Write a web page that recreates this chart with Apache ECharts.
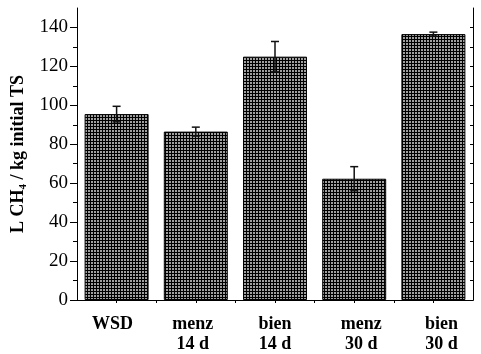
<!DOCTYPE html>
<html><head><meta charset="utf-8">
<script src="https://cdn.jsdelivr.net/npm/echarts@6/dist/echarts.min.js"></script>
<style>html,body{margin:0;padding:0;background:#fff}#c{width:481px;height:354px}</style>
</head><body><div id="c"></div>
<script>
// ---- data ----
const categories = ['WSD', 'menz\n14 d', 'bien\n14 d', 'menz\n30 d', 'bien\n30 d'];
const methaneYield = [95.5, 86.5, 125, 62.3, 136.6];
const yieldError = [4, 2.3, 7.8, 6.2, 1];
const yTickLabels = [0, 20, 40, 60, 80, 100, 120, 140];
const yMinorTicks = [10, 30, 50, 70, 90, 110, 130];
const yRightTicks = [0, 10, 20, 30, 40, 50, 60, 70, 80, 90, 100, 110, 120, 130, 140];
const topTicks = [1, 2, 3, 4, 5, 6, 7, 8, 9];

// ---- styling ----
const FONT = "'Liberation Serif','Times New Roman',serif";
const labelShift = [-4, -3, 0, 7, 8];

const pc = document.createElement('canvas');
pc.width = 3; pc.height = 3;
const g = pc.getContext('2d');
g.fillStyle = '#a0a0a0'; g.fillRect(0, 0, 3, 3);
g.fillStyle = '#000'; g.fillRect(0, 0, 3, 1); g.fillRect(0, 0, 1, 3);

const rich = {};
labelShift.forEach((d, i) => {
  rich['s' + i] = {
    fontFamily: FONT, fontWeight: 'bold', fontSize: 18, color: '#000', lineHeight: 20,
    padding: d >= 0 ? [0, 0, 0, 2 * d] : [0, -2 * d, 0, 0]
  };
});

const axisLine = { show: true, lineStyle: { color: '#000', width: 1 } };

const chart = echarts.init(document.getElementById('c'), null, { renderer: 'canvas' });
chart.setOption({
  animation: false,
  backgroundColor: '#fff',
  grid: { left: 77, right: 8, top: 8, bottom: 54 },
  xAxis: [{
    type: 'category', data: categories, position: 'bottom',
    axisLine: axisLine, axisTick: { show: false },
    axisLabel: {
      margin: 14, interval: 0,
      formatter: (v, idx) => v.split('\n').map(l => '{s' + idx + '|' + l + '}').join('\n'),
      rich: rich
    }
  }, {
    type: 'value', position: 'top', min: 0, max: 10,
    axisLine: axisLine, splitLine: { show: false }, axisLabel: { show: false },
    axisTick: { show: true, inside: true, length: 3, customValues: topTicks, lineStyle: { color: '#000' } }
  }],
  yAxis: [{
    type: 'value', min: 0, max: 150, position: 'left',
    name: '{a|L CH}{s|4}{a| / kg initial TS}',
    nameLocation: 'middle', nameGap: 45, nameRotate: 90,
    nameTextStyle: {
      rich: {
        a: { fontFamily: FONT, fontWeight: 'bold', fontSize: 18, color: '#000' },
        s: { fontFamily: FONT, fontWeight: 'bold', fontSize: 11, color: '#000', verticalAlign: 'bottom', padding: [9, 0, 0, 0] }
      }
    },
    axisLine: axisLine, splitLine: { show: false },
    axisTick: { show: true, length: 7, customValues: yTickLabels, lineStyle: { color: '#000' } },
    axisLabel: { customValues: yTickLabels, fontFamily: FONT, fontSize: 19, color: '#000', margin: 9 }
  }, {
    type: 'value', min: 0, max: 150, position: 'right',
    axisLine: axisLine, splitLine: { show: false }, axisLabel: { show: false },
    axisTick: { show: true, inside: true, length: 3, customValues: yRightTicks, lineStyle: { color: '#000' } }
  }, {
    type: 'value', min: 0, max: 150, position: 'left',
    axisLine: { show: false }, splitLine: { show: false }, axisLabel: { show: false },
    axisTick: { show: true, length: 4, customValues: yMinorTicks, lineStyle: { color: '#000' } }
  }],
  series: [{
    type: 'bar', data: methaneYield, barWidth: 64, xAxisIndex: 0, yAxisIndex: 0,
    itemStyle: { color: { image: pc, repeat: 'repeat' }, borderColor: '#000', borderWidth: 1 }
  }, {
    type: 'custom', xAxisIndex: 0, yAxisIndex: 0, z: 10,
    data: methaneYield.map((v, i) => [i, v - yieldError[i], v + yieldError[i]]),
    renderItem: (params, api) => {
      const i = api.value(0);
      const pHi = api.coord([i, api.value(2)]);
      const pLo = api.coord([i, api.value(1)]);
      const w = 4;
      const st = { stroke: '#111', lineWidth: 1.5 };
      return { type: 'group', children: [
        { type: 'line', shape: { x1: pHi[0], y1: pHi[1], x2: pLo[0], y2: pLo[1] }, style: st },
        { type: 'line', shape: { x1: pHi[0] - w, y1: pHi[1], x2: pHi[0] + w, y2: pHi[1] }, style: st },
        { type: 'line', shape: { x1: pLo[0] - w, y1: pLo[1], x2: pLo[0] + w, y2: pLo[1] }, style: st }
      ] };
    }
  }]
});
</script></body></html>
